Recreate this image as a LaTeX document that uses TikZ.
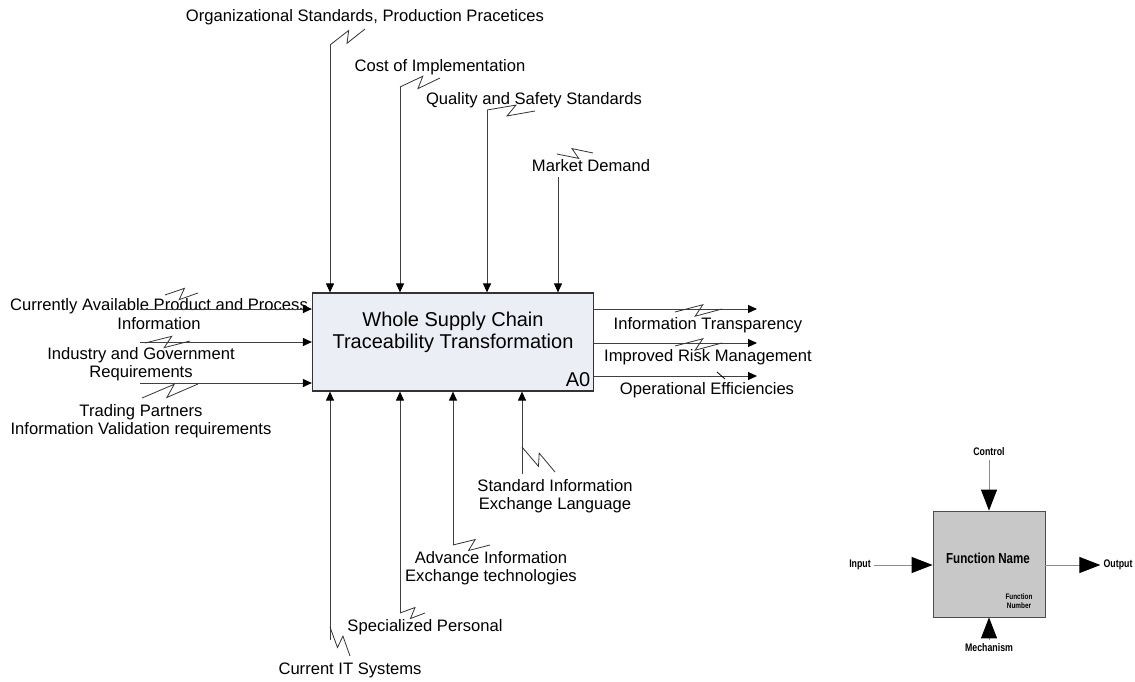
\documentclass[tikz,border=0pt]{standalone}
\usepackage{fontspec}
\setmainfont{Liberation Sans}
\newfontfamily\narrowfont[FakeStretch=0.8]{Liberation Sans}
\usetikzlibrary{calc}
\usetikzlibrary{arrows.meta}
\definecolor{boxfill}{RGB}{235,239,245}
\definecolor{legendfill}{RGB}{200,200,200}
\tikzset{
        lbl/.style={font=\fontsize{16.6}{18.5}\selectfont,align=center,inner sep=0pt},
        legendlbl/.style={font=\narrowfont\bfseries\fontsize{11}{12}\selectfont,inner sep=0pt},
        arr/.style={line width=1pt,draw=black!75,-{Triangle[length=9pt,width=8pt,black]}},
        bigarr/.style={line width=1pt,draw=black!45,-{Triangle[length=21pt,width=16pt,black]}},
        zig/.style={line width=0.8pt,draw=black!80,to path={-- ($(\tikztostart)!0.6!(\tikztotarget)!#1!90:(\tikztotarget)$) -- ($(\tikztostart)!0.42!(\tikztotarget)!#1!-90:(\tikztotarget)$) -- (\tikztotarget)}},
        zig/.default=5.5pt,
        }

\begin{document}
\begin{tikzpicture}[x=1pt,y=-1pt]
					\useasboundingbox (0,0) rectangle (1135,681);

					% activity box.....................
					\node [draw=black!80,line width=1.2pt,fill=boxfill,minimum width=281pt,minimum height=98pt,inner sep=0pt] (a0) at (453,342) {};
					\node [font=\fontsize{20}{22}\selectfont,align=center,inner sep=0pt] (title) at (453,332) {Whole Supply Chain\\Traceability Transformation};
					\node [lbl,font=\fontsize{20}{22}\selectfont] (num) at (578,380) {A0};

					% controls.....................
					\node [lbl] (ctrl1) at (365,17) {Organizational Standards, Production Pracetices};
					\node [lbl] (ctrl2) at (440,67) {Cost of Implementation};
					\node [lbl] (ctrl3) at (534,100) {Quality and Safety Standards};
					\node [lbl] (ctrl4) at (591,166) {Market Demand};
					\coordinate (c1) at (330,45);  \coordinate (c1z) at (365,29);
					\coordinate (c2) at (400,87);  \coordinate (c2z) at (440,78);
					\coordinate (c3) at (487,110); \coordinate (c3z) at (535,111);
					\coordinate (c4) at (558,177); \coordinate (c4a) at (557,154); \coordinate (c4z) at (593,153);
					\draw [arr] (c1) -- (c1 |- a0.north);
					\draw [arr] (c2) -- (c2 |- a0.north);
					\draw [arr] (c3) -- (c3 |- a0.north);
					\draw [arr] (c4) -- (c4 |- a0.north);
					\draw [zig] (c1) to (c1z);
					\draw [zig] (c2) to (c2z);
					\draw [zig] (c3) to (c3z);
					\draw [zig=-5pt] (c4a) to (c4z);

					% inputs......................
					\node [lbl] (in1) at (159,314) {Currently Available Product and Process\\Information};
					\node [lbl] (in2) at (141,364) {Industry and Government\\Requirements};
					\node [lbl] (in3) at (141,421) {Trading Partners\\Information Validation requirements};
					\coordinate (i1) at (140,309); \coordinate (i1a) at (165,295); \coordinate (i1z) at (198,293);
					\coordinate (i2) at (140,342); \coordinate (i2a) at (145,343); \coordinate (i2z) at (190,341);
					\coordinate (i3) at (140,383); \coordinate (i3a) at (142,398); \coordinate (i3z) at (198,384);
					\draw [arr] (i1) -- (i1 -| a0.west);
					\draw [arr] (i2) -- (i2 -| a0.west);
					\draw [arr] (i3) -- (i3 -| a0.west);
					\draw [zig] (i1a) to (i1z);
					\draw [zig] (i2a) to (i2z);
					\draw [zig] (i3a) to (i3z);

					% outputs......................
					\node [lbl] (out1) at (708,325) {Information Transparency};
					\node [lbl] (out2) at (708,357) {Improved Risk Management};
					\node [lbl] (out3) at (707,390) {Operational Efficiencies};
					\coordinate (o1) at (757,309); \coordinate (o1a) at (675,312); \coordinate (o1z) at (722,309);
					\coordinate (o2) at (757,343); \coordinate (o2a) at (675,346); \coordinate (o2z) at (722,343);
					\coordinate (o3) at (757,376);
					\draw [arr] (o1 -| a0.east) -- (o1);
					\draw [arr] (o2 -| a0.east) -- (o2);
					\draw [arr] (o3 -| a0.east) -- (o3);
					\draw [zig] (o1a) to (o1z);
					\draw [zig] (o2a) to (o2z);
					\draw [line width=0.8pt] (717,372) -- (725,379);

					% mechanisms.....................
					\node [lbl] (mech1) at (350,670) {Current IT Systems};
					\node [lbl] (mech2) at (425,627) {Specialized Personal};
					\node [lbl] (mech3) at (491,568) {Advance Information\\Exchange technologies};
					\node [lbl] (mech4) at (555,496) {Standard Information\\Exchange Language};
					\coordinate (m1) at (330,640); \coordinate (m1a) at (330,627); \coordinate (m1z) at (350,656);
					\coordinate (m2) at (400,613); \coordinate (m2z) at (425,613);
					\coordinate (m3) at (453,545); \coordinate (m3z) at (490,545);
					\coordinate (m4) at (522,474); \coordinate (m4a) at (522,447); \coordinate (m4z) at (555,472);
					\draw [arr] (m1) -- (m1 |- a0.south);
					\draw [arr] (m2) -- (m2 |- a0.south);
					\draw [arr] (m3) -- (m3 |- a0.south);
					\draw [arr] (m4) -- (m4 |- a0.south);
					\draw [zig=-5.5pt] (m1a) to (m1z);
					\draw [zig] (m2) to (m2z);
					\draw [zig] (m3) to (m3z);
					\draw [zig=-5.5pt] (m4a) to (m4z);

					% legend..............................
					\node [draw=black!70,line width=0.8pt,fill=legendfill,minimum width=112pt,minimum height=106pt,inner sep=0pt] (fn) at (989,564) {};
					\node [legendlbl,font=\narrowfont\bfseries\fontsize{14.5}{16}\selectfont] (fname) at (988,558) {Function Name};
					\node [legendlbl,font=\narrowfont\bfseries\fontsize{8}{9.5}\selectfont,align=center] (fnum) at (1019,601) {Function\\Number};
					\node [legendlbl] (control) at (989,452) {Control};
					\node [legendlbl] (input) at (860,565) {Input};
					\node [legendlbl] (output) at (1118,565) {Output};
					\node [legendlbl] (mechanism) at (989,648) {Mechanism};
					\draw [bigarr,shorten <=4pt] (control.south) -- (fn.north);
					\draw [bigarr,shorten <=3pt] (input.east) -- (input.east -| fn.west);
					\draw [bigarr,shorten >=3pt] (output.west -| fn.east) -- (output.west);
					\draw [bigarr,shorten <=4pt] (mechanism.north) -- (fn.south);
				\end{tikzpicture}
\end{document}
